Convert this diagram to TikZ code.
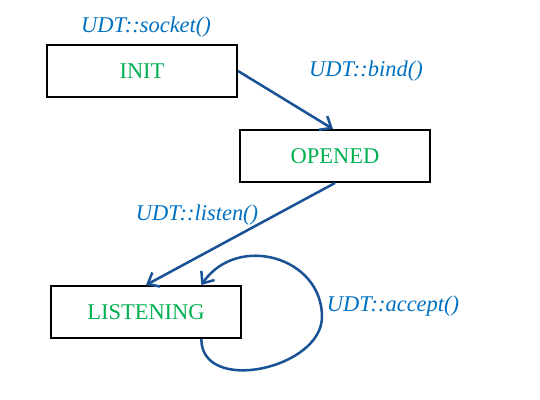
\documentclass[tikz,border=0pt]{standalone}
\usepackage{fontspec}
\setmainfont{Liberation Serif}
\definecolor{statgreen}{RGB}{0, 176, 80}
\definecolor{callblue}{RGB}{0, 112, 192}
\definecolor{edgeblue}{RGB}{26, 82, 150}
\usetikzlibrary{arrows.meta, positioning, calc}

\begin{document}
\begin{tikzpicture}[
    statebox/.style={draw=black, line width=1.4pt, minimum width=4.75cm, minimum height=1.3cm,
      inner sep=0pt, text=statgreen, font=\fontsize{16}{19}\selectfont},
    calllabel/.style={text=callblue, font=\fontsize{16}{19}\selectfont\itshape},
    trans/.style={draw=edgeblue, line width=1.8pt, -{Straight Barb[length=2.4mm, width=4mm]}}
  ]
  \useasboundingbox (0, 0) rectangle (13.5, 10);

  % States
  \node[statebox] (init) at (3.55, 8.225) {INIT};
  \node[statebox] (opened) at (8.375, 6.1) {OPENED};
  \node[statebox] (listening) at (3.65, 2.2) {LISTENING};

  % Calls
  \node[calllabel] (socket) at (3.65, 9.325) {UDT::socket()};
  \node[calllabel] (bind) at (9.15, 8.225) {UDT::bind()};
  \node[calllabel] (listen) at (4.925, 4.625) {UDT::listen()};
  \node[calllabel] (accept) at (9.825, 2.35) {UDT::accept()};

  % Transitions
  \draw[trans] (init.east) -- ($(opened.north)+(-0.05, 0)$);
  \draw[trans] (opened.south) -- (listening.north);
  \draw[trans] (listening.-26) .. controls +(0, -1.4) and +(0, -1.3) .. ($(listening.east)+(2, -0.12)$)
    .. controls +(0, 1.5) and +(0.9, 1.3) .. (listening.26);
\end{tikzpicture}
\end{document}
